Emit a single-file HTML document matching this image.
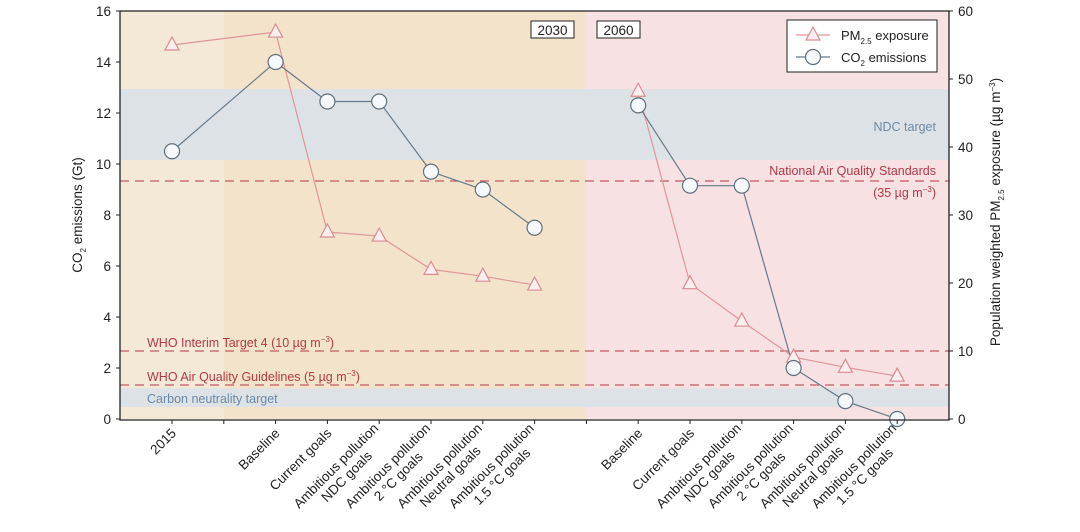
<!DOCTYPE html>
<html><head><meta charset="utf-8"><style>
body{margin:0;background:#fff;}
svg{display:block;font-family:"Liberation Sans",Arial,sans-serif;}
</style></head><body>
<svg id="chart" width="1080" height="532" viewBox="0 0 1080 532">
<g id="bg"></g><g id="marks"></g><g id="axes"></g>
</svg>
<script>
const categories=["2015","","Baseline","Current goals","Ambitious pollution|NDC goals","Ambitious pollution|2 °C goals","Ambitious pollution|Neutral goals","Ambitious pollution|1.5 °C goals","","Baseline","Current goals","Ambitious pollution|NDC goals","Ambitious pollution|2 °C goals","Ambitious pollution|Neutral goals","Ambitious pollution|1.5 °C goals"];
const co2Values=[10.5,null,14.0,12.45,12.45,9.7,9.0,7.5,null,12.3,9.15,9.15,2.0,0.7,0.0];
const pmValues=[55,null,56.9,27.5,26.9,22,21,19.7,null,48.2,19.9,14.4,9.1,7.6,6.3];
const leftTicks=[0,2,4,6,8,10,12,14,16];
const rightTicks=[0,10,20,30,40,50,60];
const ns="http://www.w3.org/2000/svg";
const X0=120,X1=949,YT=11,YB=419;
const xs=i=>172+i*51.8;
const yL=v=>YB-(v/16)*(YB-YT);
const yR=v=>YB-(v/60)*(YB-YT);
function mk(tag,attrs,parent,text){const e=document.createElementNS(ns,tag);for(const k in attrs)e.setAttribute(k,attrs[k]);if(text!==undefined)e.textContent=text;parent.appendChild(e);return e;}
const bg=document.getElementById('bg'),marks=document.getElementById('marks'),axes=document.getElementById('axes');
let r;
r=mk('rect',{x:X0,y:YT,width:224-X0,height:YB-YT,fill:'#f4e8d6'},bg);

r=mk('rect',{x:224,y:YT,width:586-224,height:YB-YT,fill:'#f3e3ca'},bg);

r=mk('rect',{x:586,y:YT,width:X1-586,height:YB-YT,fill:'#f7e1e2'},bg);

r=mk('rect',{x:X0,y:yL(12.94),width:X1-X0,height:yL(10.16)-yL(12.94),fill:'#dde2e6'},bg);

r=mk('rect',{x:X0,y:yL(1.2),width:X1-X0,height:yL(0.47)-yL(1.2),fill:'#dde2e6'},bg);

[[35,'naqs-line'],[10,'who-it4-line'],[5,'who-aqg-line']].forEach(([v,n])=>{
 const l=mk('line',{x1:X0,x2:X1,y1:yR(v),y2:yR(v),stroke:'#c25a64','stroke-width':1.3,'stroke-dasharray':'9,6'},bg);
 });
const txt=(x,y,s,c,a,n,sz)=>{const t=mk('text',{x:x,y:y,fill:c,'font-size':sz||12.5,'text-anchor':a||'start'},bg,s);return t;};
txt(936,131,'NDC target','#6a8aa6','end','ndc-target-label');
txt(936,175,'National Air Quality Standards','#b03a48','end','naqs-label');
const t35=txt(936,197,'','#b03a48','end','naqs-value-label');t35.innerHTML='(35 µg m<tspan dy="-5" font-size="8">−3</tspan><tspan dy="5">)</tspan>';
const tw=txt(147,347,'','#b03a48','start','who-it4-label');tw.innerHTML='WHO Interim Target 4 (10 µg m<tspan dy="-5" font-size="8">−3</tspan><tspan dy="5">)</tspan>';
const ta=txt(147,381,'','#b03a48','start','who-aqg-label');ta.innerHTML='WHO Air Quality Guidelines (5 µg m<tspan dy="-5" font-size="8">−3</tspan><tspan dy="5">)</tspan>';
txt(147,403,'Carbon neutrality target','#6a8aa6','start','carbon-neutrality-label');
function series(vals,yf,color,name){
 const segs=[[0,1,2,3,4,5,6,7],[9,10,11,12,13,14]];
 segs.forEach((s,k)=>{let d='';s.forEach(i=>{if(vals[i]==null)return;d+=(d?'L':'M')+xs(i)+','+yf(vals[i]);});
  const p=mk('path',{d:d,fill:'none',stroke:color,'stroke-width':1.2},marks);});
}
series(pmValues,yR,'#e0959a','pm25');
series(co2Values,yL,'#667a8a','co2');
pmValues.forEach((v,i)=>{if(v==null)return;const x=xs(i),y=yR(v);
 const p=mk('polygon',{points:`${x},${y-8} ${x-7},${y+5} ${x+7},${y+5}`,fill:'#fbeeee',stroke:'#d88c92','stroke-width':1.2},marks);
 });
co2Values.forEach((v,i)=>{if(v==null)return;
 const c=mk('circle',{cx:xs(i),cy:yL(v),r:7.5,fill:'#f5f9fc',stroke:'#5e6f7c','stroke-width':1.2},marks);
 });
let a=mk('path',{d:`M${X0},${YT}H${X1}V${YB+1}H${X0}Z`,fill:'none',stroke:'#222','stroke-width':1.3},axes);

leftTicks.forEach(v=>{const y=yL(v);mk('line',{x1:X0-4,x2:X0,y1:y,y2:y,stroke:'#222'},axes);
 const t=mk('text',{x:X0-9,y:y+5,'font-size':13.5,'text-anchor':'end',fill:'#222'},axes,v);});
rightTicks.forEach(v=>{const y=yR(v);mk('line',{x1:X1,x2:X1+4,y1:y,y2:y,stroke:'#222'},axes);
 const t=mk('text',{x:X1+9,y:y+5,'font-size':13.5,fill:'#222'},axes,v);});
categories.forEach((c,i)=>{const x=xs(i);mk('line',{x1:x,x2:x,y1:YB+1,y2:YB+5,stroke:'#222'},axes);
 if(!c)return;const lines=c.split('|');
 const t=mk('text',{transform:`translate(${x+5},${YB+15}) rotate(-45)`,'font-size':13.5,'text-anchor':'end',fill:'#222'},axes);
 
 const spans=lines.map((s,j)=>mk('tspan',{x:0,dy:j==0?(lines.length>1?-7:0):15},t,s));
 if(spans.length>1){const w0=spans[0].getComputedTextLength(),w1=spans[1].getComputedTextLength();
  spans[1].setAttribute('x',-(w0-w1)/2);}
});
let yt=mk('text',{transform:'translate(82,215) rotate(-90)','font-size':13.5,'text-anchor':'middle',fill:'#222'},axes);
yt.innerHTML='CO<tspan dy="4" font-size="8">2</tspan><tspan dy="-4"> emissions (Gt)</tspan>';

let yr=mk('text',{transform:'translate(1000,212) rotate(-90)','font-size':13.5,'text-anchor':'middle',fill:'#222'},axes);
yr.innerHTML='Population weighted PM<tspan dy="4" font-size="8">2.5</tspan><tspan dy="-4"> exposure (µg m</tspan><tspan dy="-5" font-size="8">−3</tspan><tspan dy="5">)</tspan>';

[[531,'2030'],[597,'2060']].forEach(([x,s])=>{const g=mk('g',{},axes);
 mk('rect',{x:x,y:21,width:43,height:17,fill:'#fff',stroke:'#222','stroke-width':1},g);
 mk('text',{x:x+21.5,y:35,'font-size':13.5,'text-anchor':'middle',fill:'#222'},g,s);});
const lg=mk('g',{},axes);
mk('rect',{x:787,y:20,width:150,height:52,fill:'#fff',stroke:'#222','stroke-width':1},lg);
mk('line',{x1:796,x2:830,y1:35,y2:35,stroke:'#e0959a','stroke-width':1.2},lg);
mk('polygon',{points:'813,27 806,40 820,40',fill:'#fbeeee',stroke:'#d88c92','stroke-width':1.2},lg);
mk('line',{x1:796,x2:830,y1:57,y2:57,stroke:'#667a8a','stroke-width':1.2},lg);
mk('circle',{cx:813,cy:57,r:7.5,fill:'#f5f9fc',stroke:'#5e6f7c','stroke-width':1.2},lg);
let l1=mk('text',{x:841,y:40,'font-size':13,fill:'#222'},lg);l1.innerHTML='PM<tspan dy="4" font-size="8">2.5</tspan><tspan dy="-4"> exposure</tspan>';

let l2=mk('text',{x:841,y:62,'font-size':13,fill:'#222'},lg);l2.innerHTML='CO<tspan dy="4" font-size="8">2</tspan><tspan dy="-4"> emissions</tspan>';

</script>
</body></html>
